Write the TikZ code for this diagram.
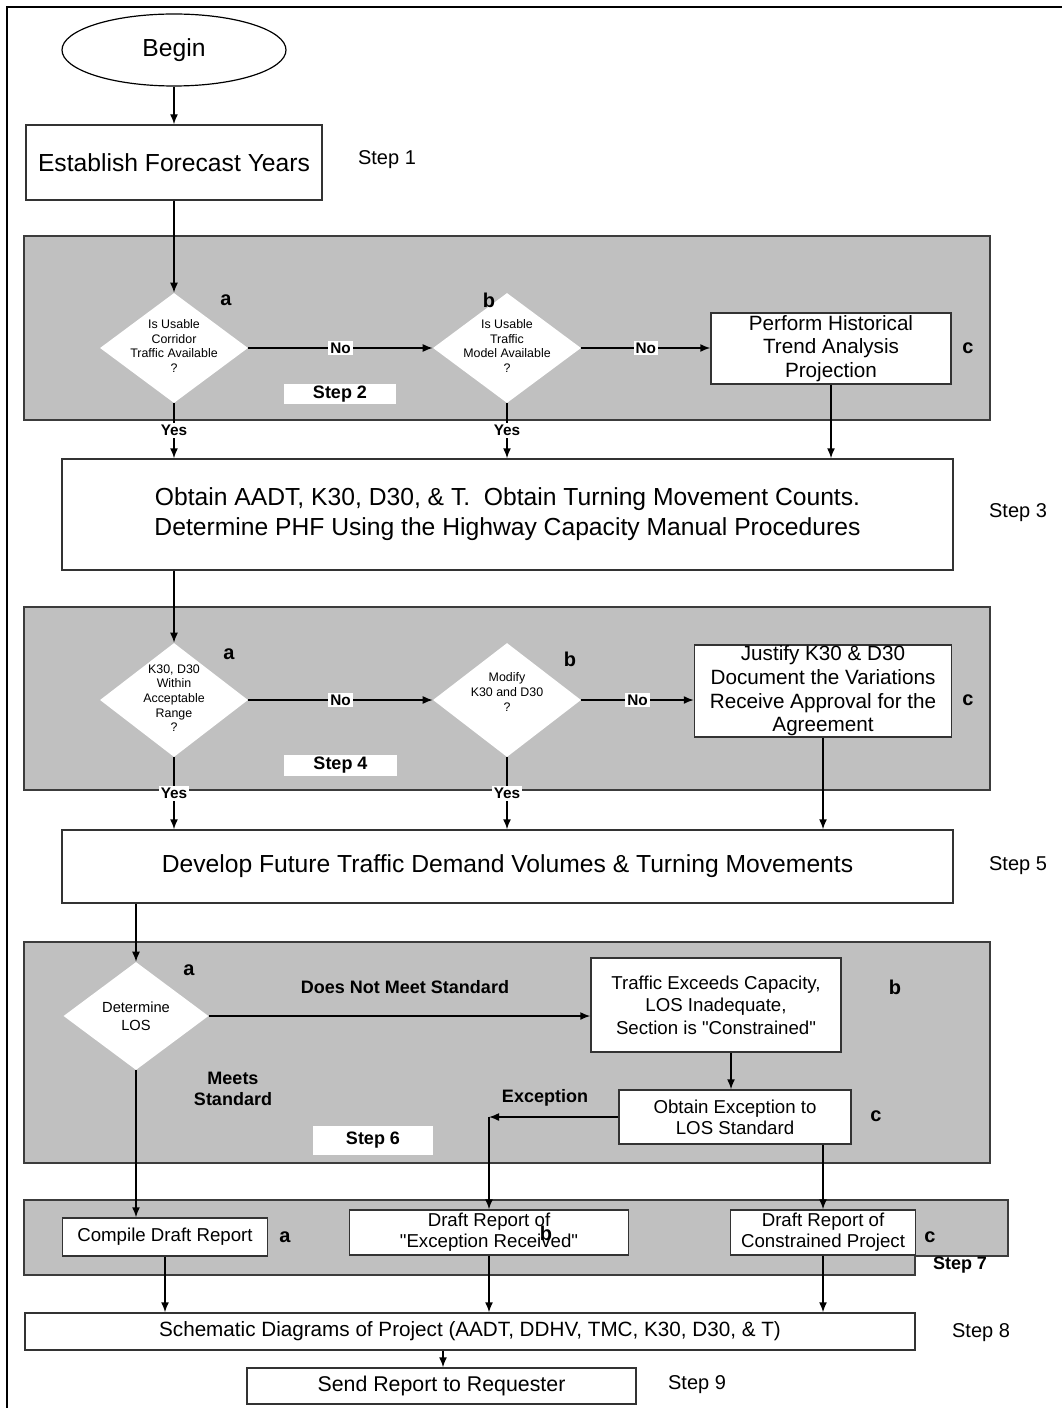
\documentclass[tikz,border=0pt]{standalone}
\usepackage{fontspec}
\setmainfont[Ligatures=TeXOff]{Liberation Sans}
\usetikzlibrary{shapes.geometric,arrows.meta}
\definecolor{panel}{HTML}{C0C0C0}
\definecolor{pline}{HTML}{3C3C3C}
\begin{document}
\begin{tikzpicture}[x=0.75pt,y=-0.75pt,
  sz/.style 2 args={minimum width=#1*0.75pt, minimum height=#2*0.75pt},
  box/.style={draw=black!80, fill=white, line width=1.1pt, inner sep=0pt, align=center},
  dia/.style={diamond, fill=white, draw=none, inner sep=0pt},
  panelbox/.style={fill=panel, draw=pline, line width=1.5pt},
  arr/.style={-{Latex[length=7.5pt,width=6pt]}, line width=1.1pt},
  big/.style={font=\fontsize{18.5}{22.5}\selectfont},
  mid/.style={font=\fontsize{15.5}{17.8}\selectfont},
  small/.style={font=\fontsize{14}{16}\selectfont},
  dtext/.style={align=center, inner sep=0pt, font=\fontsize{9.3}{11}\selectfont},
  steplab/.style={font=\fontsize{15}{18}\selectfont},
  abc/.style={font=\fontsize{15}{18}\selectfont\bfseries},
  yn/.style={fill=white, inner sep=1.5pt, font=\fontsize{11.5}{13}\selectfont\bfseries},
  inlab/.style={fill=white, inner sep=0pt, font=\fontsize{13.5}{16}\selectfont\bfseries},
  boldlab/.style={align=center, font=\fontsize{13.5}{16}\selectfont\bfseries}
]
\useasboundingbox (0,0) rectangle (1062,1408);
\fill[white] (0,0) rectangle (1062,1408);
% frame
\draw[line width=2pt] (7,1408) -- (7,7) -- (1062,7);

% Begin and Step 1
\node[ellipse, draw, line width=0.9pt, sz={224}{72}, inner sep=0pt, big] (begin) at (174,50) {Begin};
\node[box, sz={296}{75}, big] (s1) at (174,162.5) {Establish Forecast Years};
\node[steplab] (l1) at (387,160) {Step 1};

% Step 2 panel
\node[panelbox, sz={966}{184}] (p2) at (507,328) {};
\node[dia, sz={148}{110}] (d2a) at (174,348) {};
\node[dtext] (t2a) at (174,346) {Is Usable\\Corridor\\Traffic Available\\?};
\node[abc] (a2) at (226,300) {a};
\node[dia, sz={148}{110}] (d2b) at (507,348) {};
\node[dtext] (t2b) at (507,346) {Is Usable\\Traffic\\Model Available\\?};
\node[abc] (b2) at (489,300) {b};
\node[box, sz={240}{71}, mid] (c2) at (831,348.5) {Perform Historical\\Trend Analysis\\Projection};
\node[abc] (cc2) at (968,348) {c};
\node[inlab, sz={112}{20}] (l2) at (340,394) {Step 2};

% Step 3
\node[box, sz={891}{111}, big] (s3) at (507.5,514.5) {Obtain AADT, K30, D30, \& T.\ \ Obtain Turning Movement Counts.\\Determine PHF Using the Highway Capacity Manual Procedures};
\node[steplab] (l3) at (1018,513) {Step 3};

\draw[arr] (begin.south) -- (s1.north);
\draw[arr] (s1.south) -- (d2a.north);
\draw[arr] (d2a.east) -- node[yn]{No} (d2b.west);
\draw[arr] (d2b.east) -- node[yn]{No} (d2b.east -| c2.west);
\draw[arr] (d2a.south) -- node[yn]{Yes} (d2a.south |- s3.north);
\draw[arr] (d2b.south) -- node[yn]{Yes} (d2b.south |- s3.north);
\draw[arr] (c2.south) -- (c2.south |- s3.north);

% Step 4 panel
\node[panelbox, sz={966}{183}] (p4) at (507,698.5) {};
\node[dia, sz={148}{114}] (d4a) at (174,700) {};
\node[dtext] (t4a) at (174,698) {K30, D30\\Within\\Acceptable\\Range\\?};
\node[abc] (a4) at (229,654) {a};
\node[dia, sz={148}{114}] (d4b) at (507,700) {};
\node[dtext] (t4b) at (507,692) {Modify\\K30 and D30\\?};
\node[abc] (b4) at (570,659) {b};
\node[box, sz={257}{92}, mid] (c4) at (823,691) {Justify K30 \& D30\\Document the Variations\\Receive Approval for the\\Agreement};
\node[abc] (cc4) at (968,700) {c};
\node[inlab, sz={113}{21}] (l4) at (340.5,765.5) {Step 4};

% Step 5
\node[box, sz={891}{73}, big] (s5) at (507.5,866.5) {Develop Future Traffic Demand Volumes \& Turning Movements};
\node[steplab] (l5) at (1018,866) {Step 5};

\draw[arr] (s3.south -| d4a) -- (d4a.north);
\draw[arr] (d4a.east) -- node[yn]{No} (d4b.west);
\draw[arr] (d4b.east) -- node[yn]{No} (d4b.east -| c4.west);
\draw[arr] (d4a.south) -- node[yn]{Yes} (d4a.south |- s5.north);
\draw[arr] (d4b.south) -- node[yn]{Yes} (d4b.south |- s5.north);
\draw[arr] (c4.south) -- (c4.south |- s5.north);

% Step 6 panel
\node[panelbox, sz={966}{221}] (p6) at (507,1052.5) {};
\node[dia, sz={145}{108}] (d6a) at (136,1016) {};
\node[dtext, font=\fontsize{11}{13.5}\selectfont] (t6a) at (136,1016) {Determine\\LOS};
\node[abc] (a6) at (189,970) {a};
\node[box, sz={250}{94}, font=\fontsize{14}{16.9}\selectfont] (c6b) at (716,1005) {Traffic Exceeds Capacity,\\LOS Inadequate,\\Section is "Constrained"};
\node[abc] (b6) at (895,987) {b};
\node[box, sz={232}{54}, small] (c6c) at (735,1117) {Obtain Exception to\\LOS Standard};
\node[abc] (cc6) at (876,1116) {c};
\node[boldlab] (dnm) at (405,987) {Does Not Meet Standard};
\node[boldlab] (ms) at (233,1089) {Meets\\Standard};
\node[boldlab] (exl) at (545,1098) {Exception};
\node[inlab, sz={120}{29}] (l6) at (373,1140.5) {Step 6};
\coordinate (ex) at (489,1117);

% Step 7 panel
\draw[panelbox] (24,1200) -- (1008,1200) -- (1008,1256) -- (915,1256) -- (915,1275) -- (24,1275) -- cycle;
\node[inlab, fill=none] (l7) at (960,1265) {Step 7};
\node[box, sz={205}{38}, small] (a7) at (165,1237) {Compile Draft Report};
\node[abc] (aa7) at (285,1237) {a};
\node[box, sz={279}{45}, small] (b7) at (489,1232.5) {Draft Report of\\"Exception Received"};
\node[abc] (bb7) at (546,1233) {b};
\node[box, sz={185}{45}, small] (c7) at (823,1232.5) {Draft Report of\\Constrained Project};
\node[abc] (cc7) at (930,1237) {c};

% Step 8 and 9
\node[box, sz={890}{37}, font=\fontsize{15.5}{18}\selectfont] (s8) at (470,1331.5) {Schematic Diagrams of Project (AADT, DDHV, TMC, K30, D30, \& T)};
\node[steplab] (l8) at (981,1333) {Step 8};
\node[box, sz={389}{36}, font=\fontsize{16}{18}\selectfont] (s9) at (441.5,1386) {Send Report to Requester};
\node[steplab] (l9) at (697,1385) {Step 9};

\draw[arr] (s5.south -| d6a) -- (d6a.north);
\draw[arr] (d6a.east) -- (d6a.east -| c6b.west);
\draw[arr] (c6b.south -| 731,0) -- (c6c.north -| 731,0);
\draw[arr] (c6c.west) -- (ex);
\draw[arr] (ex) -- (ex |- b7.north);
\draw[arr] (d6a.south) -- (d6a.south |- a7.north);
\draw[arr] (c7.north |- c6c.south) -- (c7.north);
\draw[arr] (a7.south) -- (a7.south |- s8.north);
\draw[arr] (b7.south) -- (b7.south |- s8.north);
\draw[arr] (c7.south) -- (c7.south |- s8.north);
\draw[arr] (s8.south -| 443,0) -- (s9.north -| 443,0);
\end{tikzpicture}
\end{document}
